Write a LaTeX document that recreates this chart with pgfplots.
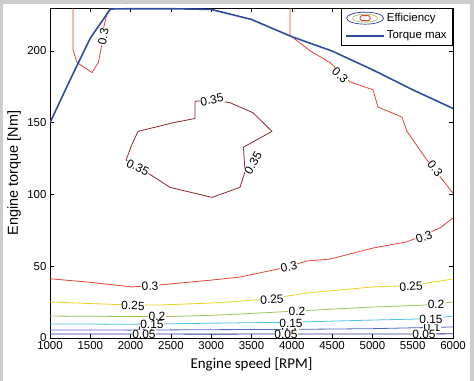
\documentclass[border=0pt]{standalone}
\usepackage{pgfplots}
\pgfplotsset{compat=1.18}
\usepackage{fontspec}
\setmainfont{Liberation Sans}
\newfontfamily\calib{Carlito}
\definecolor{c35}{HTML}{8B2A2A}
\definecolor{c30}{HTML}{E4403A}
\definecolor{c25}{HTML}{E8D41E}
\definecolor{c20}{HTML}{9CC65C}
\definecolor{c15}{HTML}{4EC4E6}
\definecolor{c10}{HTML}{4E68BC}
\definecolor{c05}{HTML}{2E3890}
\definecolor{tmax}{HTML}{2E4DA2}
\tikzset{clabel/.style={font=\fontsize{12}{14}\selectfont, fill=white, inner sep=0.5pt}}
\begin{document}
\begin{tikzpicture}
\fill[gray!40] (0,0) rectangle (474bp,381bp);
\fill[white] (3bp,0) rectangle (470bp,377bp);
\begin{axis}[
  at={(50bp,43bp)}, anchor=south west, scale only axis,
  width=403bp, height=330bp,
  xmin=1000, xmax=6000, ymin=0, ymax=230,
  xtick={1000,1500,...,6000}, ytick={0,50,...,200},
  tick align=inside, major tick length=4bp,
  axis line style={line width=0.7pt}, every tick/.style={black, line width=0.6pt},
  tick label style={font=\fontsize{11.5}{13}\selectfont},
  /pgf/number format/assume math mode=true,
  /pgf/number format/1000 sep={},
  scaled x ticks=false,
  xlabel={Engine speed [RPM]},
  xlabel style={font=\calib\fontsize{15}{17}\selectfont, at={(axis description cs:0.5,-0.079)}, anchor=center},
  ylabel={Engine torque [Nm]},
  ylabel style={font=\fontsize{14.5}{16}\selectfont, at={(axis description cs:-0.089,0.5)}, anchor=center},
  legend style={at={(1,1)}, anchor=north east, draw=black, line width=0.6pt,
    font=\fontsize{11.5}{13}\selectfont, inner xsep=4pt, inner ysep=3pt, row sep=4pt},
  legend cell align=left,
  every axis plot/.append style={line join=round},
]
% legend entry for efficiency contours
\addlegendimage{legend image code/.code={
  \draw[c05, line width=0.7pt] (19bp,0) ellipse (18.5bp and 6bp);
  \draw[c20, line width=0.7pt] (19bp,0) ellipse (12.5bp and 4bp);
  \draw[c30, line width=0.9pt, rounded corners=1.5pt] (14bp,-2.5bp) rectangle (24bp,2.5bp);
}}
\addlegendentry{Efficiency}

% 0.05
\addplot[c05, line width=0.8pt, forget plot] coordinates {(1000,2.8) (3000,2.7) (5000,2.8) (6000,2.9)};
% 0.1
\addplot[c10, line width=0.8pt, forget plot] coordinates {(1000,5.6) (2000,5.5) (3000,5.8) (4000,6.0) (5000,6.5) (6000,7.7)};
% 0.15
\addplot[c15, line width=0.8pt, forget plot] coordinates {(1000,9.8) (2000,9.6) (3000,10.3) (4000,11.0) (5000,12.5) (5700,13.4) (6000,15.3)};
% 0.2
\addplot[c20, line width=0.8pt, forget plot] coordinates {(1000,15.3) (2000,15.0) (2500,15.0) (3010,15.8) (3357,16.7) (4065,18.8) (5007,21.6) (5600,22.8) (6000,25.1)};
% 0.25
\addplot[c25, line width=0.8pt, forget plot] coordinates {(1000,25.1) (1500,24.0) (2017,23.0) (2365,23.0) (3010,24.4) (3233,25.1) (3754,27.5) (4189,31.4) (5007,35.6) (5466,36.5) (6000,41.1)};
% 0.3 bottom
\addplot[c30, line width=0.8pt, forget plot] coordinates {(1000,41.3) (1500,38.8) (2017,35.6) (2365,37.0) (3010,40.4) (3357,42.5) (3891,48.8) (4189,53.7) (4474,55.0) (5007,62.7) (5429,67.0) (5839,76.7) (6000,83.7)};
% 0.3 top left
\addplot[c30, line width=0.8pt, forget plot] coordinates {(1285,230) (1285,201) (1335,192) (1521,185) (1600,192) (1645,205) (1652,213) (1707,226) (1745,230)};
% 0.3 top right
\addplot[c30, line width=0.8pt, forget plot] coordinates {(3978,230) (3978,211) (4230,200) (4474,192) (4722,178.5) (5007,173) (5069,161) (5367,154) (5429,144) (5677,124) (6000,101)};
% 0.35 island
\addplot[c35, line width=0.8pt, forget plot] coordinates {(2800,165) (2799,153) (2526,150) (2092,144) (2017,135) (1943,124) (2241,114) (2489,105) (3010,98) (3357,105) (3420,116) (3400,133) (3754,144) (3519,157) (3233,164) (3010,166) (2800,165)};

% torque max
\addplot[tmax, line width=1.6pt, legend image code/.code={\draw[tmax, line width=1.6pt] (0bp,0bp) -- (38bp,0bp);}] coordinates {(1000,150) (1250,180) (1500,209) (1750,229.3) (2000,229.5) (2500,229.5) (3000,229) (3500,222) (4000,210) (4500,200) (5000,187) (5500,173) (6000,160)};
\addlegendentry{Torque max}

% contour labels
\node[clabel, rotate=80] at (axis cs:1660,210) {0.3};
\node[clabel, rotate=-42] at (axis cs:4600,183) {0.3};
\node[clabel, rotate=-52] at (axis cs:5777,118) {0.3};
\node[clabel, rotate=12] at (axis cs:3010,166) {0.35};
\node[clabel, rotate=-25] at (axis cs:2090,119) {0.35};
\node[clabel, rotate=60] at (axis cs:3520,122) {0.35};
\node[clabel, rotate=3] at (axis cs:2241,36) {0.3};
\node[clabel, rotate=12] at (axis cs:3965,49.5) {0.3};
\node[clabel, rotate=20] at (axis cs:5640,70.5) {0.3};
\node[clabel, rotate=-2] at (axis cs:2030,22.5) {0.25};
\node[clabel, rotate=4] at (axis cs:3754,27) {0.25};
\node[clabel, rotate=5] at (axis cs:5479,36) {0.25};
\node[clabel] at (axis cs:2328,15) {0.2};
\node[clabel] at (axis cs:4065,18.3) {0.2};
\node[clabel] at (axis cs:5790,23.5) {0.2};
\node[clabel] at (axis cs:2200,5.6) {0.1};
\node[clabel] at (axis cs:3978,7) {0.1};
\node[clabel] at (axis cs:5739,7.6) {0.1};
\node[clabel] at (axis cs:2265,9.3) {0.15};
\node[clabel] at (axis cs:3990,10.5) {0.15};
\node[clabel] at (axis cs:5727,13.3) {0.15};
\node[clabel] at (axis cs:2166,2.4) {0.05};
\node[clabel] at (axis cs:3928,2.4) {0.05};
\node[clabel] at (axis cs:5640,2.4) {0.05};
\end{axis}
\pgfresetboundingbox
\useasboundingbox (0,0) rectangle (474bp,381bp);
\end{tikzpicture}
\end{document}
